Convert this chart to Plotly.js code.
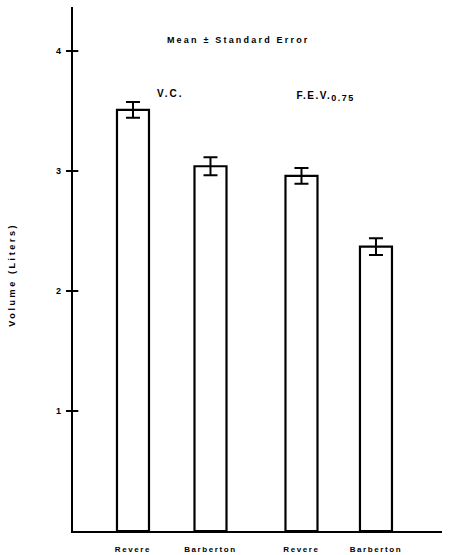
<!DOCTYPE html>
<html>
<head>
<meta charset="utf-8">
<script src="https://cdn.plot.ly/plotly-3.0.1.min.js"></script>
<style>
html,body{margin:0;padding:0;background:#fff;}
#chart{width:450px;height:555px;}
</style>
</head>
<body>
<div id="chart"></div>
<script>
// Data
const categories = ["Revere", "Barberton", "Revere", "Barberton"];
const groups = ["V.C.", "V.C.", "F.E.V.", "F.E.V."];
const positions = [1, 2, 3.174, 4.135];
const means = [3.51, 3.04, 2.96, 2.37];
const stdErrors = [0.065, 0.075, 0.065, 0.07];
const yTickVals = [1, 2, 3, 4];
const yTickText = ["1", "2", "3", "4"];

const FONT = "Liberation Sans, Arial, sans-serif";

const trace = {
  type: "bar",
  x: positions,
  y: means,
  width: 0.413,
  marker: {color: "#ffffff", line: {color: "#000000", width: 2.2}},
  error_y: {type: "data", array: stdErrors, visible: true, color: "#000000", thickness: 2, width: 7},
  hoverinfo: "none"
};

// inner half of each crossing y tick (the axis draws the outer half)
const innerTicks = yTickVals.map(v => ({
  type: "line", xref: "paper", yref: "y",
  x0: 0, x1: 0.0145, y0: v, y1: v,
  line: {color: "#000000", width: 2}
}));

const layout = {
  width: 450,
  height: 555,
  margin: {l: 73, r: 8, t: 7, b: 24},
  paper_bgcolor: "#ffffff",
  plot_bgcolor: "#ffffff",
  showlegend: false,
  xaxis: {
    range: [0.226, 4.987],
    tickvals: positions,
    ticktext: categories,
    ticks: "outside",
    ticklen: 9,
    tickcolor: "rgba(0,0,0,0)",
    showgrid: false,
    zeroline: false,
    showline: true,
    linecolor: "#000000",
    linewidth: 2,
    tickfont: {family: FONT, size: 8, color: "#000000", weight: "bold"}
  },
  yaxis: {
    range: [0, 4.367],
    tickvals: yTickVals,
    ticktext: yTickText,
    ticks: "outside",
    ticklen: 5,
    tickwidth: 2,
    tickcolor: "#000000",
    showgrid: false,
    zeroline: false,
    showline: true,
    linecolor: "#000000",
    linewidth: 2.2,
    ticklabelstandoff: 3,
    tickfont: {family: FONT, size: 9, color: "#000000", weight: "bold"}
  },
  shapes: innerTicks,
  annotations: [
    {text: "Mean \u00b1 Standard Error", x: 2.355, y: 4.09, xref: "x", yref: "y",
     showarrow: false, xanchor: "center", yanchor: "middle",
     font: {family: FONT, size: 9, color: "#000000", weight: "bold"}},
    {text: groups[0], x: 1.49, y: 3.65, xref: "x", yref: "y",
     showarrow: false, xanchor: "center", yanchor: "middle",
     font: {family: FONT, size: 10, color: "#000000", weight: "bold"}},
    {text: groups[2] + "<sub><span style=\"font-size:9px\">0.75</span></sub>", x: 3.18, y: 3.62, xref: "x", yref: "y",
     showarrow: false, xanchor: "left", yanchor: "middle",
     font: {family: FONT, size: 10, color: "#000000", weight: "bold"}},
    {text: "Volume (Liters)", x: -0.165, y: 0.4885, xref: "paper", yref: "paper",
     showarrow: false, textangle: -90, xanchor: "center", yanchor: "middle",
     font: {family: FONT, size: 9, color: "#000000", weight: "bold"}}
  ]
};

function spaceText() {
  const gd = document.getElementById("chart");
  gd.querySelectorAll(".xtick text").forEach(t => t.style.letterSpacing = "1.6px");
  const ann = gd.querySelectorAll(".annotation-text");
  const spacing = ["2.2px", "2px", "1.5px", "2.6px"];
  ann.forEach((t, i) => { t.style.letterSpacing = spacing[i] || "1px"; });
}

Plotly.newPlot("chart", [trace], layout, {staticPlot: true, displayModeBar: false}).then(spaceText);
</script>
</body>
</html>
